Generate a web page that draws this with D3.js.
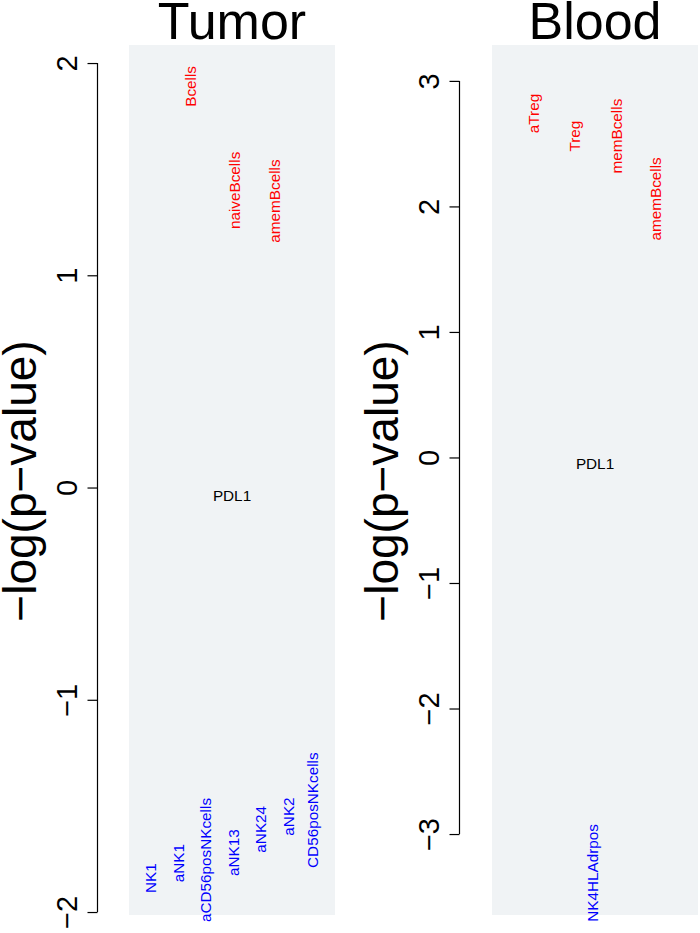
<!DOCTYPE html>
<html>
<head>
<meta charset="utf-8">
<script src="https://cdn.jsdelivr.net/npm/d3@7"></script>
<style>
body{margin:0;background:#fff}
text{font-family:"Liberation Sans",Arial,Helvetica,sans-serif}
</style>
</head>
<body>
<div id="chart"></div>
<script>
// Tumor panel
var tumorGenes = ["Bcells","naiveBcells","amemBcells","PDL1","NK1","aNK1","aCD56posNKcells","aNK13","aNK24","aNK2","CD56posNKcells"];
var tumorX = [2.45,4.05,5.5,3.95,1,2,3,4,5,6,6.9];
var tumorY = [1.89,1.40,1.35,-0.04,-1.84,-1.77,-1.755,-1.72,-1.61,-1.55,-1.52];
var tumorTicks = [-2,-1,0,1,2];
var tumorXlim = [0.2,7.7];
var tumorYlim = [-2.014,2.085];

// Blood panel
var bloodGenes = ["aTreg","Treg","memBcells","amemBcells","PDL1","NK4HLAdrpos"];
var bloodX = [1,2,3.03,3.97,2.5,2.45];
var bloodY = [2.74,2.56,2.56,2.06,-0.05,-3.31];
var bloodTicks = [-3,-2,-1,0,1,2,3];
var bloodXlim = [0,5];
var bloodYlim = [-3.645,3.286];

var refGene = "PDL1";
var yTitle = "\u2212log(p\u2212value)";

var w = 700, h = 933;
var plotTop = 45, plotBottom = 915;

var svg = d3.select("#chart").append("svg")
	.attr("width", w)
	.attr("height", h)
	.style("background", "#FFFFFF");

function panel(title, genes, xs, ys, ticks, xlim, ylim, axisX, left, right, titleX){
	var xscale = d3.scaleLinear().domain(xlim).range([left, right]);
	var yscale = d3.scaleLinear().domain(ylim).range([plotBottom, plotTop]);

	svg.append("rect")
		.attr("x", left).attr("y", plotTop)
		.attr("width", right - left).attr("height", plotBottom - plotTop)
		.style("fill", "#f0f3f5");

	// axis, R style: line only between first and last tick
	var g = svg.append("g").attr("transform", "translate(" + (axisX + 0.5) + ",0)");
	g.call(d3.axisLeft(yscale).tickValues(ticks).tickFormat(d3.format("d")).tickSize(10).tickSizeOuter(0));
	g.select(".domain").remove();
	g.selectAll(".tick line").attr("stroke", "#000").attr("stroke-width", 1.2);
	g.selectAll(".tick text")
		.attr("x", null).attr("dy", null)
		.attr("text-anchor", "middle")
		.attr("transform", "translate(-21,0) rotate(-90)")
		.style("font-size", "29px")
		.style("font-family", "Liberation Sans, Arial, sans-serif")
		.attr("fill", "#000");
	g.append("line")
		.attr("x1", 0).attr("x2", 0)
		.attr("y1", yscale(d3.min(ticks))).attr("y2", yscale(d3.max(ticks)))
		.attr("stroke", "#000").attr("stroke-width", 1.2);

	svg.append("text")
		.attr("x", (left + right) / 2).attr("y", 39)
		.attr("text-anchor", "middle")
		.style("font-size", "52px")
		.text(title);

	svg.append("text")
		.attr("transform", "translate(" + titleX + ",481) rotate(-90)")
		.attr("text-anchor", "middle")
		.style("font-size", "46px")
		.text(yTitle);

	var rows = genes.map(function(d, i){ return {name: d, x: xs[i], y: ys[i]}; });
	svg.selectAll(null)
		.data(rows)
		.enter()
		.append("text")
		.attr("transform", function(d){
			var t = "translate(" + xscale(d.x) + "," + yscale(d.y) + ")";
			return d.name == refGene ? t : t + " rotate(-90)";
		})
		.attr("text-anchor", "middle")
		.attr("dy", "0.35em")
		.style("font-size", "15.3px")
		.style("fill", function(d){
			if (d.name == refGene) return "#000";
			return d.y > 0 ? "#FF0000" : "#0000FF";
		})
		.text(function(d){ return d.name; });
}

panel("Tumor", tumorGenes, tumorX, tumorY, tumorTicks, tumorXlim, tumorYlim, 97, 129, 335, 36);
panel("Blood", bloodGenes, bloodX, bloodY, bloodTicks, bloodXlim, bloodYlim, 459, 492, 698, 398);
</script>
</body>
</html>
